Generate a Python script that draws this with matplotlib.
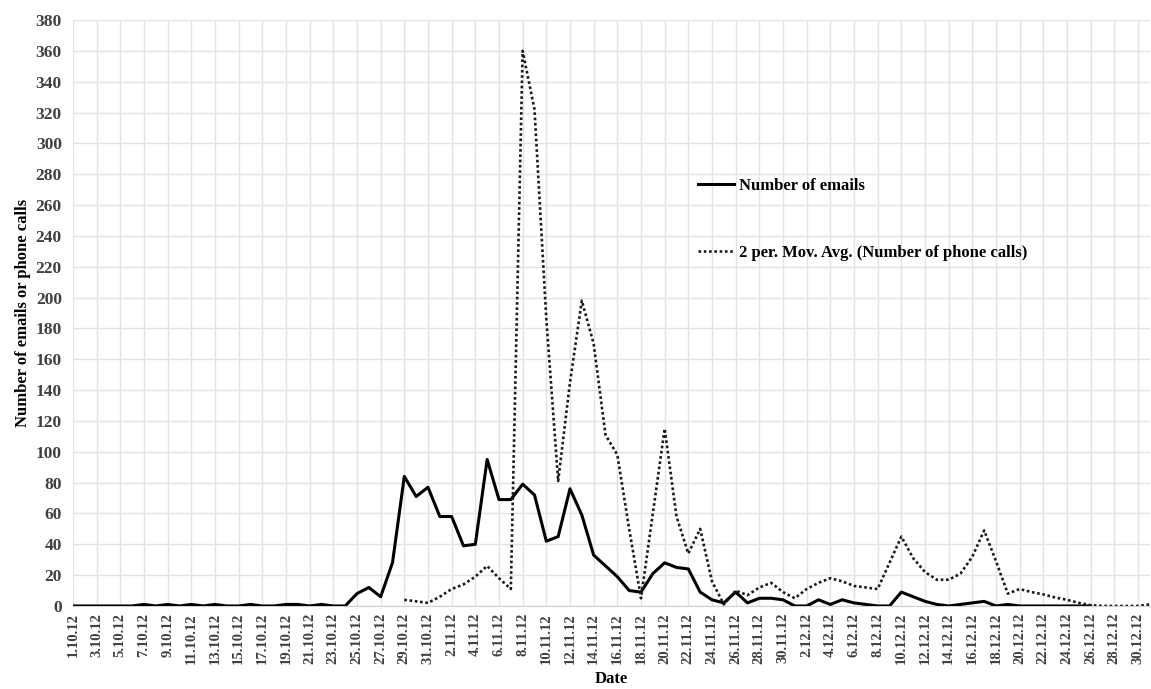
import numpy as np
import pandas as pd
import matplotlib
matplotlib.use("Agg")
import matplotlib.pyplot as plt

plt.rcParams['font.family'] = ['Liberation Serif', 'DejaVu Serif']
plt.rcParams['font.weight'] = 'bold'

# one category per day, 1.10.12 .. 31.12.12
dates = pd.date_range('2012-10-01', '2012-12-31', freq='D')
date_labels = [f"{d.day}.{d.month}.12" for d in dates]

nan = np.nan
emails = [
    0, 0, 0, 0, 0, 0, 1, 0, 1, 0, 1, 0, 1, 0, 0, 1, 0, 0, 1, 1, 0, 1, 0, 0,
    8, 12, 6, 28, 84, 71, 77,                                   # 25.10 - 31.10
    58, 58, 39, 40, 95, 69, 69, 79, 72, 42, 45, 76, 59, 33, 26,  # 1.11 - 15.11
    19, 10, 9, 21, 28, 25, 24, 9, 4, 2, 9, 2, 5, 5, 4,           # 16.11 - 30.11
    0, 0, 4, 1, 4, 2, 1, 0, 0, 9, 6, 3, 1, 0, 1, 2, 3, 0, 1, 0,  # 1.12 - 20.12
    0, 0, 0, 0, 0, 0, nan, nan, nan, nan, nan,                   # 21.12 - 31.12
]

# 2 period moving average of phone calls (starts 29.10)
phone_ma = [nan] * 28 + [
    4, 3, 2,                                                     # 29.10 - 31.10
    6, 11, 14, 19, 26, 18, 11, 360, 322, 186, 81, 145, 198, 170, 111,  # 1.11 - 15.11
    98, 50, 5, 60, 115, 58, 34, 50, 16, 1, 10, 7, 12, 15, 9,     # 16.11 - 30.11
    5, 11, 15, 18, 16, 13, 12, 11, 28, 45, 31, 22, 17, 17, 21, 32, 49, 29, 8, 11,  # 1.12 - 20.12
    9, 7.5, 5.5, 4, 2, 0.5, 0, 0, 0, 0, 1,                       # 21.12 - 31.12
]

x = np.arange(len(dates))

fig = plt.figure(figsize=(11.51, 6.89), dpi=100)
ax = fig.add_axes([0.0634, 0.1205, 0.9356, 0.8505])

ax.plot(x, emails, color='black', lw=2.2, label='Number of emails', zorder=3)
ax.plot(x, phone_ma, color='#1a1a1a', lw=1.9, linestyle=(0, (1, 1)),
        label='2 per. Mov. Avg. (Number of phone calls)', zorder=3)

ax.set_xlim(0, len(dates) - 1)
ax.set_ylim(0, 380)
ax.set_yticks(np.arange(0, 381, 20))
ax.set_xticks(x[::2])
ax.set_xticklabels(date_labels[::2], rotation=90, fontsize=10.5, color='#404040')
ax.tick_params(axis='y', labelsize=12.5, labelcolor='#404040')
ax.tick_params(axis='x', pad=5)
ax.tick_params(axis='y', pad=8)
ax.tick_params(length=0)

ax.grid(True, color='#e3e3e3', lw=1.0)
ax.set_axisbelow(True)
for side in ['top', 'right', 'left']:
    ax.spines[side].set_visible(False)
ax.spines['bottom'].set_color('#d0d0d0')

ax.set_xlabel('Date', fontsize=12, fontweight='bold', labelpad=5)
ax.set_ylabel('Number of emails or phone calls', fontsize=12, fontweight='bold', labelpad=3)

ax.legend(loc='upper left', bbox_to_anchor=(0.593, 0.764), bbox_transform=fig.transFigure,
          frameon=False, fontsize=12, handlelength=2.2, handletextpad=0.3, labelspacing=3.1)

fig.savefig('out.png', dpi=100)
